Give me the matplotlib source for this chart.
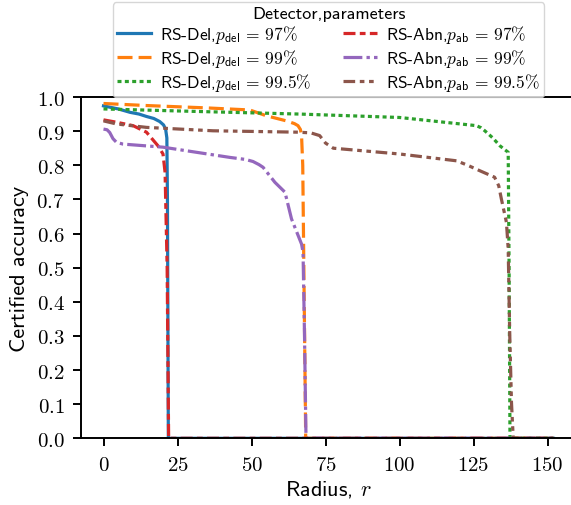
import matplotlib
matplotlib.use('Agg')
from matplotlib import pyplot as plt
from matplotlib.ticker import FuncFormatter

plt.rcParams['font.family'] = ['cmss10', 'DejaVu Sans']
plt.rcParams['mathtext.fontset'] = 'cm'
plt.rcParams['axes.unicode_minus'] = False

# certified accuracy vs radius
del97_r = [0, 5, 9, 12, 14.5, 17, 19, 20.3, 21.0, 21.4, 21.6, 21.9, 152]
del97_acc = [0.974, 0.965, 0.955, 0.950, 0.943, 0.937, 0.928, 0.918, 0.905, 0.88, 0.70, 0.0, 0.0]

del99_r = [0, 14.5, 35, 49.4, 55, 61.8, 64.5, 65.7, 66.5, 66.9, 67.3, 67.8, 68.3, 152]
del99_acc = [0.981, 0.975, 0.968, 0.962, 0.945, 0.930, 0.922, 0.916, 0.905, 0.887, 0.80, 0.40, 0.0, 0.0]

del995_r = [0, 30, 66.3, 100, 126, 127.5, 128.8, 131.5, 133.9, 135.5, 136.7, 137.0, 137.3, 152]
del995_acc = [0.965, 0.958, 0.950, 0.940, 0.916, 0.910, 0.901, 0.880, 0.857, 0.846, 0.838, 0.50, 0.0,
              0.0]

abn97_r = [0, 4.4, 10, 14.5, 18.4, 20.1, 20.8, 21.5, 22.0, 152]
abn97_acc = [0.933, 0.926, 0.916, 0.897, 0.857, 0.833, 0.779, 0.50, 0.0, 0.0]

abn99_r = [0, 1.2, 2.1, 3.2, 4.4, 6.6, 20.1, 42.7, 48, 50.5, 52.5, 53.9, 57.9, 61.3, 63.5, 66.9, 67.4,
           67.9, 68.4, 152]
abn99_acc = [0.906, 0.904, 0.896, 0.878, 0.867, 0.862, 0.853, 0.823, 0.817, 0.811, 0.802, 0.794, 0.750,
             0.721, 0.643, 0.569, 0.545, 0.30, 0.0, 0.0]

abn995_r = [0, 4.4, 14.5, 37, 65.2, 70, 73, 75, 77.6, 100, 119.3, 123, 127.1, 132.1, 133.5, 134.4, 136.1,
            136.7, 137.2, 137.8, 138.4, 152]
abn995_acc = [0.930, 0.921, 0.911, 0.901, 0.897, 0.895, 0.887, 0.865, 0.850, 0.833, 0.813, 0.800, 0.784,
              0.765, 0.74, 0.701, 0.633, 0.555, 0.311, 0.106, 0.0, 0.0]

labels = [r'RS-Del,$p_{\mathsf{del}}\,=\,97\%$',
          r'RS-Del,$p_{\mathsf{del}}\,=\,99\%$',
          r'RS-Del,$p_{\mathsf{del}}\,=\,99.5\%$',
          r'RS-Abn,$p_{\mathsf{ab}}\,=\,97\%$',
          r'RS-Abn,$p_{\mathsf{ab}}\,=\,99\%$',
          r'RS-Abn,$p_{\mathsf{ab}}\,=\,99.5\%$']

fig = plt.figure(figsize=(5.71, 5.06), dpi=100)
ax = fig.add_axes([81 / 571, 66.7 / 506, 495 / 571, 341.3 / 506])

lw = 2.3
ax.plot(del97_r, del97_acc, color='tab:blue', lw=lw, label=labels[0])
ax.plot(del99_r, del99_acc, color='tab:orange', lw=lw, ls=(0, (4.7, 1.9)), label=labels[1])
ax.plot(del995_r, del995_acc, color='tab:green', lw=lw, ls=(0, (1.25, 1.05)), label=labels[2])
ax.plot(abn97_r, abn97_acc, color='tab:red', lw=lw, ls=(0, (3.75, 1.35, 1.8, 1.35)), label=labels[3])
ax.plot(abn99_r, abn99_acc, color='tab:purple', lw=lw, ls=(0, (5.9, 1.3, 1.05, 1.3)), label=labels[4])
ax.plot(abn995_r, abn995_acc, color='tab:brown', lw=lw,
        ls=(0, (3.65, 1.45, 1.45, 1.45, 1.45, 1.45)), label=labels[5])

ax.set_xlim(-7.6, 159.6)
ax.set_ylim(0, 1.0)
ax.set_xticks([0, 25, 50, 75, 100, 125, 150])
ax.set_yticks([i / 10 for i in range(11)])
ax.xaxis.set_major_formatter(FuncFormatter(lambda v, p: '$%d$' % v))
ax.yaxis.set_major_formatter(FuncFormatter(lambda v, p: '$%.1f$' % v))
ax.tick_params(labelsize=15, length=5.8, width=1.4, pad=6)
for s in ax.spines.values():
    s.set_linewidth(1.4)

ax.set_xlabel(r'Radius, $r$', fontsize=16, labelpad=3)
ax.set_ylabel('Certified accuracy', fontsize=16, labelpad=5)

ax.legend(loc='lower center', bbox_to_anchor=(0.5, 1.0), borderaxespad=0, ncol=2,
          title='Detector,parameters', fontsize=12.5, title_fontsize=13,
          labelspacing=0.1, borderpad=0.25, handletextpad=0.55, handlelength=1.95,
          columnspacing=1.8)

fig.savefig('out.png', dpi=100)
